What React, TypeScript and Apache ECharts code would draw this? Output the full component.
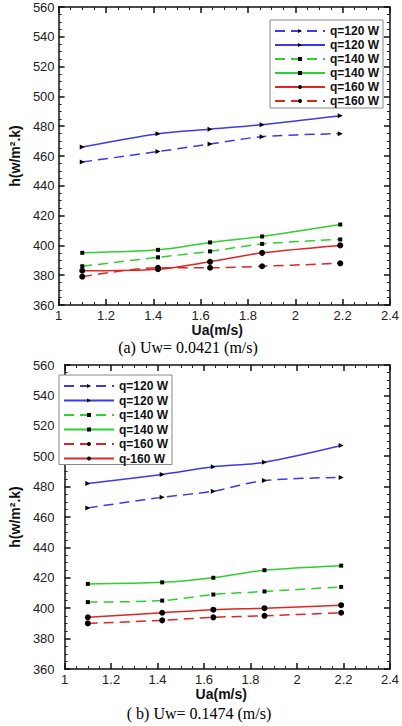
import React, { useEffect, useRef } from "react";
import * as echarts from "echarts";

const ua = [1.1, 1.42, 1.64, 1.86, 2.19];
const xTicks = { min: 1, max: 2.4, interval: 0.2 };
const yTicks = { min: 360, max: 560, interval: 20 };

// (a) Uw = 0.0421 m/s
const aQ120Dash = [456, 463, 468, 473, 475];
const aQ120Solid = [466, 475, 478, 481, 487];
const aQ140Dash = [386, 392, 396, 401, 404];
const aQ140Solid = [395, 397, 402, 406, 414];
const aQ160Solid = [383, 384, 389, 395, 400];
const aQ160Dash = [379, 385, 385, 386, 388];

// (b) Uw = 0.1474 m/s
const bQ120Dash = [466, 473, 477, 484, 486];
const bQ120Solid = [482, 488, 493, 496, 507];
const bQ140Dash = [404, 405, 409, 411, 414];
const bQ140Solid = [416, 417, 420, 425, 428];
const bQ160Dash = [390, 392, 394, 395, 397];
const bQ160Solid = [394, 397, 399, 400, 402];

const legendA = [
  ["a1", "q=120 W"],
  ["a2", "q=120 W"],
  ["a3", "q=140 W"],
  ["a4", "q=140 W"],
  ["a5", "q=160 W"],
  ["a6", "q=160 W"],
];
const legendB = [
  ["b1", "q=120 W"],
  ["b2", "q=120 W"],
  ["b3", "q=140 W"],
  ["b4", "q=140 W"],
  ["b5", "q=160 W"],
  ["b6", "q-160 W"],
];

const captionA = "(a) Uw= 0.0421 (m/s)";
const captionB = "( b) Uw= 0.1474 (m/s)";

const BLUE = "#3b3be6";
const GREEN = "#2fcf2f";
const RED = "#dd2626";
const FONT = "'Liberation Sans', Arial, sans-serif";

export default function App() {
  const ref = useRef<HTMLDivElement>(null);

  useEffect(() => {
    if (!ref.current) return;
    const chart = echarts.init(ref.current, null, { renderer: "svg" });

    const nameMap: Record<string, string> = {};
    [...legendA, ...legendB].forEach(([k, v]) => (nameMap[k] = v));

    const tickCommon = {
      axisLine: { show: true, onZero: false, lineStyle: { color: "#111", width: 1.5 } },
      axisTick: { show: true, inside: true, length: 6, lineStyle: { color: "#111", width: 1.5 } },
      minorTick: { show: true, splitNumber: 4, length: 3, lineStyle: { color: "#222", width: 1 } },
      splitLine: { show: false },
      minorSplitLine: { show: false },
    };

    const makeX = (grid: number, pos: "bottom" | "top", gapRight: number) => ({
      type: "value",
      gridIndex: grid,
      position: pos,
      ...xTicks,
      ...tickCommon,
      axisLabel: {
        show: pos === "bottom",
        margin: 4,
        color: "#222",
        fontSize: 13,
        fontFamily: FONT,
      },
      name: pos === "bottom" ? "Ua(m/s)" : "",
      nameLocation: "middle",
      nameGap: 14,
      nameTextStyle: {
        fontSize: 14,
        fontWeight: "bold",
        color: "#111",
        fontFamily: FONT,
        padding: [0, gapRight, 0, 0],
      },
    });

    const makeY = (grid: number, pos: "left" | "right", margin: number, nameGap: number) => ({
      type: "value",
      gridIndex: grid,
      position: pos,
      ...yTicks,
      ...tickCommon,
      axisLabel: {
        show: pos === "left",
        margin,
        color: "#222",
        fontSize: 13,
        fontFamily: FONT,
      },
      name: pos === "left" ? "h(w/m\u00b2.k)" : "",
      nameLocation: "middle",
      nameRotate: 90,
      nameGap,
      nameTextStyle: {
        fontSize: 14,
        fontWeight: "bold",
        color: "#111",
        fontFamily: FONT,
      },
    });

    const mk = (
      name: string,
      vals: number[],
      color: string,
      dashed: boolean,
      symbol: string,
      size: number,
      rotate: number,
      axis: number
    ) => ({
      type: "line",
      name,
      xAxisIndex: axis,
      yAxisIndex: axis,
      data: ua.map((x, i) => [x, vals[i]]),
      smooth: 0.3,
      symbol,
      symbolSize: size,
      symbolRotate: rotate,
      showSymbol: true,
      lineStyle: { color, width: 1.5, type: dashed ? [10, 6] : "solid" },
      itemStyle: { color: "#000" },
      emphasis: { disabled: true },
      z: 3,
    });

    const legendCommon = {
      orient: "vertical",
      itemWidth: 50,
      itemHeight: 5,
      itemGap: 2,
      itemStyle: { color: "#000" },
      borderColor: "#888",
      borderWidth: 1,
      backgroundColor: "#fff",
      selectedMode: false,
      formatter: (n: string) => nameMap[n] || n,
      textStyle: {
        fontSize: 12,
        fontWeight: "bold",
        color: "#111",
        fontFamily: FONT,
        lineHeight: 12,
      },
    };

    chart.setOption({
      animation: false,
      backgroundColor: "#fff",
      grid: [
        { left: 53, top: 7, width: 344, height: 298 },
        { left: 48, top: 365, width: 344, height: 304 },
      ],
      xAxis: [makeX(0, "bottom", 14), makeX(0, "top", 0), makeX(1, "bottom", 12), makeX(1, "top", 0)],
      yAxis: [makeY(0, "left", 4, 30), makeY(0, "right", 4, 30), makeY(1, "left", 10, 32), makeY(1, "right", 4, 30)],
      legend: [
        {
          ...legendCommon,
          left: 270,
          top: 20,
          padding: [5, 4, 1, 4],
          data: legendA.map(([k]) => k),
        },
        {
          ...legendCommon,
          left: 59,
          top: 375,
          itemGap: 2.5,
          padding: [5, 4, 0, 4],
          data: legendB.map(([k]) => k),
        },
      ],
      series: [
        mk("a1", aQ120Dash, BLUE, true, "triangle", 5, -90, 0),
        mk("a2", aQ120Solid, BLUE, false, "triangle", 5, -90, 0),
        mk("a3", aQ140Dash, GREEN, true, "rect", 4, 0, 0),
        mk("a4", aQ140Solid, GREEN, false, "rect", 4, 0, 0),
        mk("a5", aQ160Solid, RED, false, "circle", 6, 0, 0),
        mk("a6", aQ160Dash, RED, true, "circle", 6, 0, 0),
        mk("b1", bQ120Dash, BLUE, true, "triangle", 5, -90, 2),
        mk("b2", bQ120Solid, BLUE, false, "triangle", 5, -90, 2),
        mk("b3", bQ140Dash, GREEN, true, "rect", 4, 0, 2),
        mk("b4", bQ140Solid, GREEN, false, "rect", 4, 0, 2),
        mk("b5", bQ160Dash, RED, true, "circle", 6, 0, 2),
        mk("b6", bQ160Solid, RED, false, "circle", 6, 0, 2),
      ],
      graphic: [
        {
          type: "text",
          x: 188,
          y: 347,
          style: {
            text: captionA,
            fill: "#000",
            font: "16px 'Liberation Serif', 'Times New Roman', serif",
            textAlign: "center",
            textVerticalAlign: "middle",
          },
        },
        {
          type: "text",
          x: 199,
          y: 713,
          style: {
            text: captionB,
            fill: "#000",
            font: "16px 'Liberation Serif', 'Times New Roman', serif",
            textAlign: "center",
            textVerticalAlign: "middle",
          },
        },
      ],
    });

    return () => chart.dispose();
  }, []);

  return (
    <div
      ref={ref}
      style={{ position: "absolute", left: 0, top: 0, width: 402, height: 726, background: "#fff" }}
    />
  );
}
